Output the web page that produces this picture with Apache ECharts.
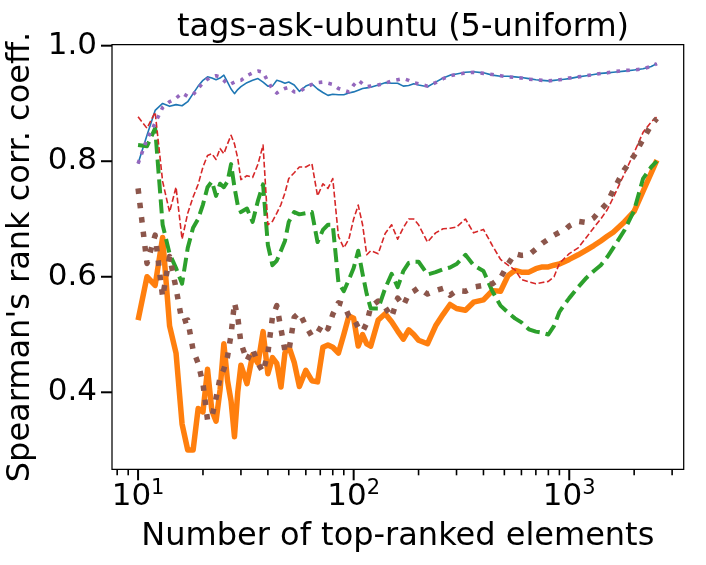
<!DOCTYPE html>
<html><head><meta charset="utf-8">
<script src="https://cdn.jsdelivr.net/npm/echarts@6/dist/echarts.min.js"></script>
<style>html,body{margin:0;padding:0;background:#fff}#c{width:706px;height:565px}</style>
</head><body><div id="c"></div>
<script>
// ---- data ----
const X = [10,11,12,13,14,15,16,17,18,19,20,21,22,23,24,25,26,27,28,29,30,32,34,36,38,40,42,44,46,48,50,53,56,60,64,68,72,76,80,85,90,95,100,105,110,115,120,130,140,150,160,170,180,190,200,220,240,260,280,300,330,360,400,440,480,520,560,600,650,700,750,800,850,900,950,1000,1100,1200,1300,1400,1500,1600,1800,2000,2200,2400,2550];
const blueY = [0.796,0.845,0.888,0.900,0.895,0.898,0.896,0.903,0.917,0.930, 0.940,0.946,0.944,0.941,0.944,0.949,0.937,0.925,0.917,0.924, 0.929,0.936,0.940,0.943,0.937,0.930,0.930,0.940,0.938,0.935, 0.937,0.932,0.921,0.930,0.934,0.925,0.919,0.914,0.916,0.915, 0.915,0.918,0.920,0.923,0.926,0.927,0.928,0.932,0.936,0.935, 0.935,0.930,0.931,0.934,0.932,0.929,0.937,0.944,0.949,0.951, 0.954,0.955,0.953,0.949,0.947,0.947,0.946,0.945,0.943,0.941, 0.940,0.939,0.940,0.941,0.942,0.943,0.946,0.948,0.950,0.952, 0.953,0.954,0.956,0.958,0.960,0.964,0.969];
const orangeY = [0.525,0.600,0.585,0.668,0.515,0.468,0.345,0.300,0.300,0.372, 0.366,0.440,0.368,0.350,0.404,0.484,0.420,0.385,0.323,0.400, 0.447,0.415,0.465,0.450,0.505,0.432,0.460,0.450,0.409,0.468, 0.480,0.452,0.410,0.438,0.420,0.418,0.478,0.482,0.478,0.468, 0.500,0.532,0.528,0.480,0.500,0.484,0.480,0.525,0.536,0.522, 0.506,0.492,0.508,0.500,0.490,0.484,0.515,0.535,0.552,0.545, 0.542,0.556,0.560,0.576,0.575,0.602,0.611,0.608,0.608,0.614, 0.617,0.617,0.620,0.622,0.626,0.630,0.638,0.646,0.654,0.662, 0.670,0.677,0.695,0.713,0.748,0.780,0.802];
const greenY = [0.828,0.826,0.857,0.690,0.640,0.615,0.588,0.650,0.685,0.700, 0.725,0.755,0.765,0.740,0.761,0.755,0.765,0.795,0.755,0.724, 0.712,0.718,0.695,0.732,0.760,0.655,0.620,0.628,0.645,0.662, 0.695,0.712,0.708,0.710,0.712,0.660,0.681,0.690,0.690,0.590, 0.575,0.595,0.615,0.645,0.605,0.570,0.545,0.545,0.580,0.605, 0.582,0.610,0.624,0.626,0.626,0.604,0.608,0.613,0.616,0.622, 0.638,0.620,0.610,0.575,0.550,0.538,0.528,0.521,0.509,0.505, 0.503,0.500,0.515,0.539,0.552,0.563,0.582,0.598,0.610,0.620, 0.634,0.650,0.680,0.715,0.770,0.790,0.800];
const redY = [0.877,0.857,0.885,0.765,0.712,0.755,0.665,0.710,0.738,0.760, 0.790,0.810,0.813,0.803,0.822,0.813,0.830,0.845,0.830,0.805, 0.768,0.775,0.772,0.795,0.828,0.690,0.696,0.710,0.725,0.745, 0.770,0.780,0.790,0.790,0.796,0.740,0.761,0.753,0.770,0.670, 0.650,0.665,0.700,0.724,0.690,0.638,0.645,0.640,0.675,0.690, 0.665,0.685,0.700,0.700,0.690,0.660,0.676,0.683,0.684,0.686, 0.700,0.676,0.682,0.654,0.630,0.620,0.612,0.595,0.591,0.588, 0.590,0.592,0.600,0.623,0.632,0.640,0.650,0.668,0.685,0.700, 0.716,0.737,0.778,0.815,0.850,0.868,0.877];
const purpleY = [0.796,0.838,0.866,0.893,0.903,0.909,0.918,0.912,0.915,0.926, 0.936,0.942,0.946,0.948,0.946,0.940,0.933,0.934,0.937,0.939, 0.940,0.948,0.953,0.956,0.954,0.938,0.925,0.918,0.923,0.926, 0.928,0.920,0.920,0.928,0.933,0.936,0.937,0.935,0.933,0.926, 0.923,0.920,0.932,0.940,0.934,0.929,0.930,0.932,0.935,0.939, 0.941,0.943,0.940,0.936,0.934,0.930,0.936,0.943,0.948,0.950, 0.953,0.954,0.952,0.950,0.948,0.946,0.945,0.944,0.942,0.941, 0.940,0.939,0.940,0.941,0.942,0.944,0.946,0.948,0.950,0.952, 0.953,0.955,0.957,0.958,0.960,0.964,0.969];
const brownY = [0.753,0.623,0.672,0.565,0.635,0.580,0.522,0.525,0.473,0.450, 0.415,0.352,0.357,0.390,0.425,0.440,0.462,0.500,0.555,0.530, 0.485,0.455,0.475,0.450,0.435,0.468,0.530,0.550,0.510,0.472, 0.470,0.530,0.538,0.515,0.497,0.503,0.519,0.510,0.535,0.555, 0.552,0.532,0.528,0.512,0.505,0.520,0.548,0.558,0.547,0.530, 0.563,0.550,0.570,0.575,0.581,0.570,0.576,0.580,0.568,0.576, 0.575,0.582,0.585,0.588,0.598,0.622,0.640,0.637,0.638,0.648, 0.658,0.665,0.672,0.677,0.680,0.688,0.696,0.694,0.702,0.716, 0.728,0.750,0.785,0.810,0.838,0.863,0.874];
const xMajorTicks = [10, 100, 1000];
const xMinorTicks = [8,9,20,30,40,50,60,70,80,90,200,300,400,500,600,700,800,900,2000,3000];
const yTickValues = [0.4, 0.6, 0.8, 1.0];
const X_MIN = 7.57, X_MAX = 3395, Y_MIN = 0.2667, Y_MAX = 1.0017;

// ---- chart ----
const FONT = 'DejaVu Sans';
const pairs = ys => X.map((x, i) => [x, ys[i]]);
const tickData = [].concat(
  xMajorTicks.map(v => [v, Y_MIN, 0]),
  xMinorTicks.map(v => [v, Y_MIN, 1]),
  yTickValues.map(v => [X_MIN, v, 2])
);
const isPow10 = v => { const l = Math.log10(v); return Math.abs(l - Math.round(l)) < 1e-6; };
const isFifth = v => { const r = Math.round(v * 5); return Math.abs(v * 5 - r) < 1e-6 && v > 0.3; };
function lineSeries(name, ys, color, width, type, z) {
  return { name, type: 'line', data: pairs(ys), showSymbol: false, symbol: 'none', z,
    silent: true, clip: true,
    lineStyle: { color, width, type, join: 'round' } };
}
const chart = echarts.init(document.getElementById('c'), null, { renderer: 'canvas' });
chart.setOption({
  animation: false,
  backgroundColor: '#fff',
  title: { text: 'tags-ask-ubuntu (5-uniform)', left: 398, top: 7, textAlign: 'center',
    textStyle: { fontFamily: FONT, fontSize: 32, fontWeight: 'normal', color: '#000' } },
  grid: { left: 112, right: 22.3, top: 44.7, bottom: 95.7, show: true, borderColor: '#000',
    borderWidth: 1.25, containLabel: false, outerBoundsMode: 'none' },
  xAxis: {
    type: 'log', logBase: 10, min: X_MIN, max: X_MAX,
    axisLine: { show: false }, axisTick: { show: false }, splitLine: { show: false },
    minorTick: { show: false }, minorSplitLine: { show: false },
    axisLabel: { margin: 8.5, color: '#000', fontFamily: FONT, fontSize: 31, lineHeight: 38,
      showMinLabel: false, showMaxLabel: false,
      formatter: v => isPow10(v) ? '{b|10}{s|' + Math.round(Math.log10(v)) + '}' : '',
      rich: { b: { fontFamily: FONT, fontSize: 31, lineHeight: 38, color: '#000' },
              s: { fontFamily: FONT, fontSize: 21, lineHeight: 22, verticalAlign: 'top', color: '#000' } } },
    name: 'Number of top-ranked elements', nameLocation: 'middle', nameGap: 58,
    nameTextStyle: { fontFamily: FONT, fontSize: 32, color: '#000', verticalAlign: 'middle' }
  },
  yAxis: {
    type: 'value', min: Y_MIN, max: Y_MAX,
    axisLine: { show: false }, axisTick: { show: false }, splitLine: { show: false },
    axisLabel: { margin: 15, color: '#000', fontFamily: FONT, fontSize: 31,
      showMinLabel: false, showMaxLabel: false,
      formatter: v => isFifth(v) ? v.toFixed(1) : '' },
    name: "Spearman's rank corr. coeff.", nameLocation: 'middle', nameRotate: 90, nameGap: 85,
    nameTextStyle: { fontFamily: FONT, fontSize: 32, color: '#000', verticalAlign: 'middle' }
  },
  series: [
    lineSeries('C0', blueY, '#1f77b4', 1.6, 'solid', 2),
    lineSeries('C1', orangeY, '#ff7f0e', 5.5, 'solid', 3),
    lineSeries('C2', greenY, '#2ca02c', 4, [14, 6], 4),
    lineSeries('C3', redY, '#d62728', 1.6, [5.9, 2.6], 5),
    lineSeries('C4', purpleY, '#9467bd', 3.6, [3.6, 6.2], 6),
    lineSeries('C5', brownY, '#8c564b', 5.5, [5.5, 9], 7),
    {
      type: 'custom', coordinateSystem: 'cartesian2d', silent: true, z: 10, clip: false,
      data: tickData,
      renderItem: (params, api) => {
        const kind = api.value(2);
        const p = api.coord([api.value(0), api.value(1)]);
        let shape, w;
        if (kind === 2) { shape = { x1: p[0] - 11, y1: p[1], x2: p[0], y2: p[1] }; w = 2; }
        else if (kind === 0) { shape = { x1: p[0], y1: p[1], x2: p[0], y2: p[1] + 11 }; w = 2; }
        else { shape = { x1: p[0], y1: p[1], x2: p[0], y2: p[1] + 6 }; w = 1.6; }
        return { type: 'line', shape, style: { stroke: '#000', lineWidth: w } };
      }
    }
  ]
});
</script></body></html>
